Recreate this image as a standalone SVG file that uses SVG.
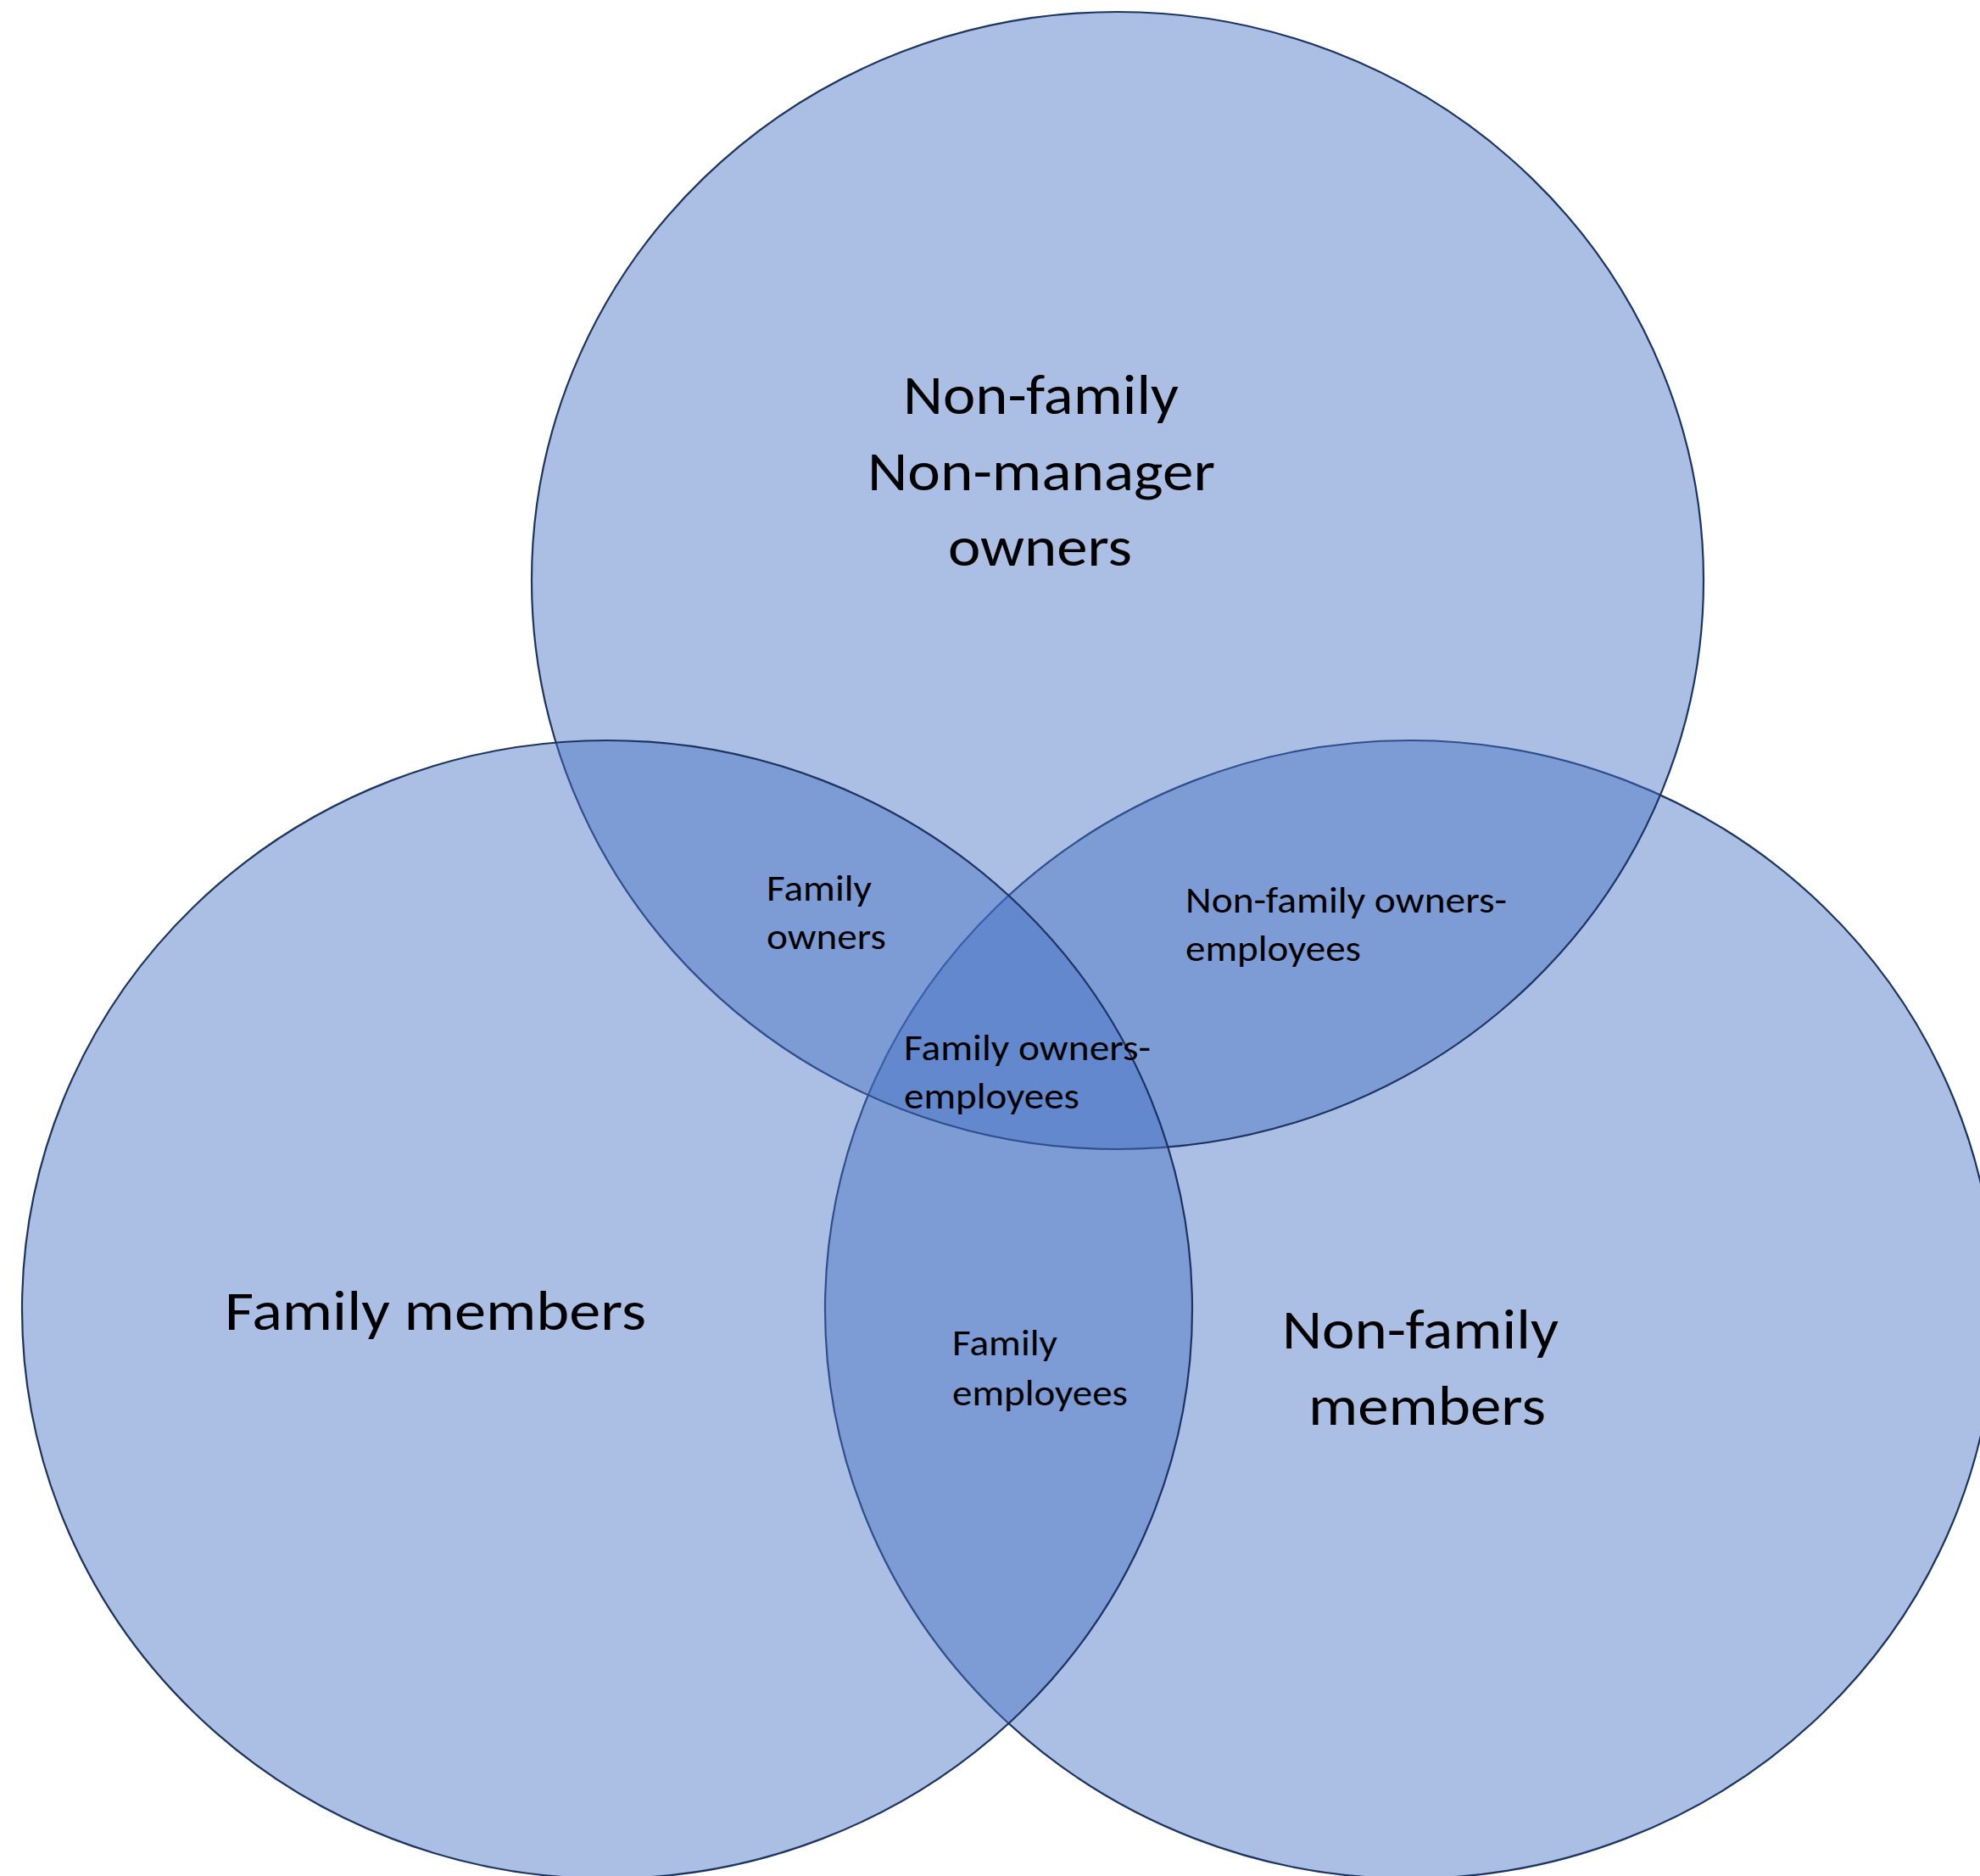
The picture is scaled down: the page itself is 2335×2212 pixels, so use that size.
<svg xmlns="http://www.w3.org/2000/svg" width="2335" height="2212" viewBox="0 0 2335 2212">
  <style>
    .set { fill: #4472C4; fill-opacity: 0.45; stroke: #1B3461; stroke-width: 2.2; }
    .big { font-family: Carlito, Lato, "Liberation Sans", sans-serif; font-size: 65px; fill: #000; }
    .small { font-family: Carlito, Lato, "Liberation Sans", sans-serif; font-size: 42.5px; fill: #000; }
  </style>
  <rect width="2335" height="2212" fill="#ffffff"/>
  <g id="set-nonfamily-members">
    <ellipse class="set" cx="1663" cy="1544" rx="690" ry="671"/>
  </g>
  <g id="set-owners">
    <ellipse class="set" cx="1318" cy="684.5" rx="691" ry="670.5"/>
  </g>
  <g id="set-family-members">
    <ellipse class="set" cx="716" cy="1544" rx="690" ry="671"/>
  </g>
  <g id="labels">
    <g id="label-owners">
      <text class="big" x="1065" y="488" textLength="325" lengthAdjust="spacingAndGlyphs">Non-family</text>
      <text class="big" x="1023" y="578" textLength="410" lengthAdjust="spacingAndGlyphs">Non-manager</text>
      <text class="big" x="1118" y="667" textLength="217" lengthAdjust="spacingAndGlyphs">owners</text>
    </g>
    <g id="label-family-members">
      <text class="big" x="265" y="1568" textLength="497" lengthAdjust="spacingAndGlyphs">Family members</text>
    </g>
    <g id="label-nonfamily-members">
      <text class="big" x="1512" y="1590" textLength="326" lengthAdjust="spacingAndGlyphs">Non-family</text>
      <text class="big" x="1543" y="1680" textLength="280" lengthAdjust="spacingAndGlyphs">members</text>
    </g>
    <g id="label-family-owners">
      <text class="small" x="904" y="1062" textLength="124" lengthAdjust="spacingAndGlyphs">Family</text>
      <text class="small" x="904" y="1119" textLength="141" lengthAdjust="spacingAndGlyphs">owners</text>
    </g>
    <g id="label-nonfamily-owners-employees">
      <text class="small" x="1398" y="1076" textLength="379" lengthAdjust="spacingAndGlyphs">Non-family owners-</text>
      <text class="small" x="1398" y="1133" textLength="207" lengthAdjust="spacingAndGlyphs">employees</text>
    </g>
    <g id="label-family-owners-employees">
      <text class="small" x="1066" y="1250" textLength="291" lengthAdjust="spacingAndGlyphs">Family owners-</text>
      <text class="small" x="1066" y="1307" textLength="207" lengthAdjust="spacingAndGlyphs">employees</text>
    </g>
    <g id="label-family-employees">
      <text class="small" x="1123" y="1598" textLength="124" lengthAdjust="spacingAndGlyphs">Family</text>
      <text class="small" x="1123" y="1657" textLength="207" lengthAdjust="spacingAndGlyphs">employees</text>
    </g>
  </g>
  <g id="connectors"/>
</svg>
